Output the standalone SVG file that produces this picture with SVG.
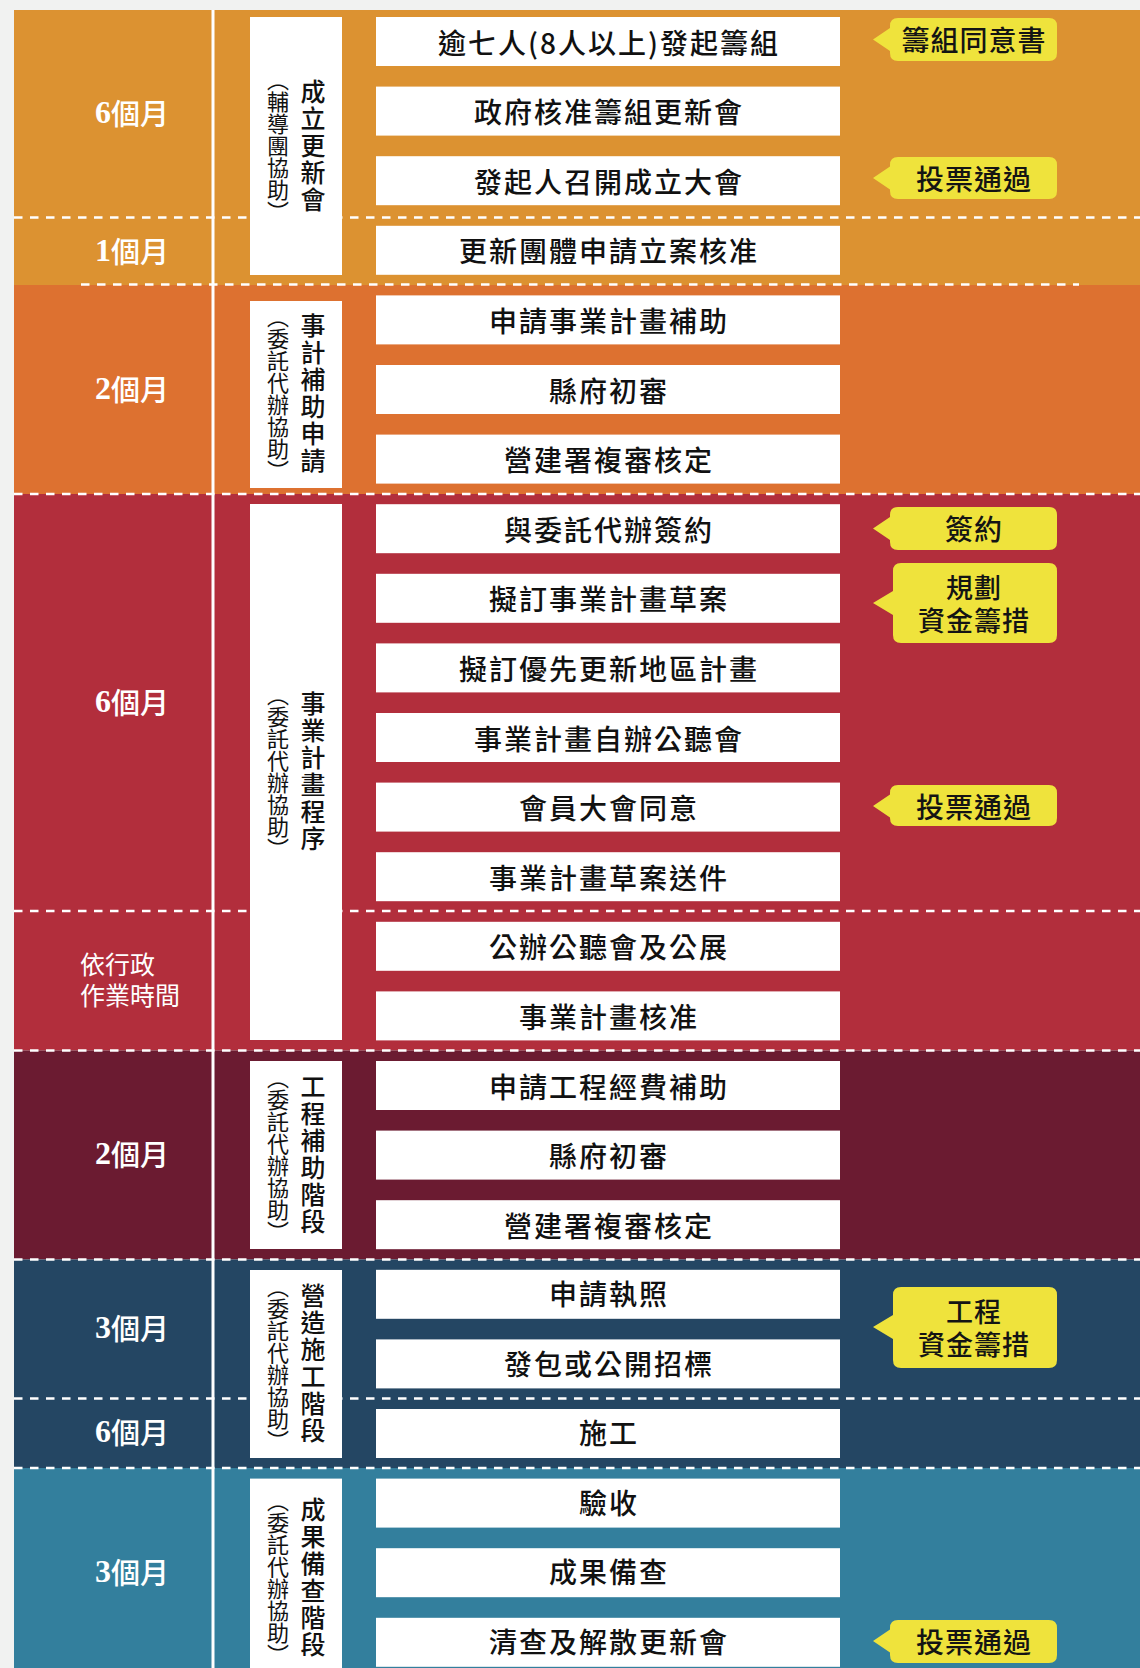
<svg xmlns="http://www.w3.org/2000/svg" width="1140" height="1668" viewBox="0 0 1140 1668">
<style>
.dash{stroke:#fff;stroke-width:2.5;stroke-dasharray:8.5 7.5;fill:none}
.lbox{fill:#fff}
.sbox{fill:#fff}
.stxt{font-family:"Noto Sans CJK TC","Noto Sans CJK SC",sans-serif;font-size:28px;font-weight:500;fill:#111;text-anchor:middle;dominant-baseline:central;letter-spacing:2px}
.vmain{font-family:"Noto Sans CJK TC",sans-serif;font-size:25px;font-weight:500;fill:#111;text-anchor:middle;writing-mode:vertical-rl;letter-spacing:2px}
.vsub{font-family:"Noto Sans CJK TC",sans-serif;font-size:22px;font-weight:400;fill:#111;text-anchor:middle;writing-mode:vertical-rl}
.mon{font-family:"Noto Sans CJK TC",sans-serif;font-size:29px;font-weight:500;fill:#fff;text-anchor:middle;dominant-baseline:central}
.dig{font-family:"Liberation Serif",serif;font-weight:bold;font-size:32px}
.adm{font-family:"Noto Sans CJK TC",sans-serif;font-size:25px;font-weight:400;fill:#fff;dominant-baseline:central}
.bub{fill:#EFE33C}
.btxt{font-family:"Noto Sans CJK TC",sans-serif;font-size:28px;font-weight:500;fill:#141414;text-anchor:middle;dominant-baseline:central;letter-spacing:1px}
.btxt2{font-family:"Noto Sans CJK TC",sans-serif;font-size:27px;font-weight:500;fill:#141414;text-anchor:middle;dominant-baseline:central;letter-spacing:1px}
</style>
<rect x="0" y="0" width="1140" height="1668" fill="#F1F2F1"/>
<g id="sections">
<rect x="14" y="10" width="1126" height="275" fill="#DC9231"/>
<rect x="14" y="285" width="1126" height="209" fill="#DD7130"/>
<rect x="14" y="494" width="1126" height="556.5" fill="#B22E3C"/>
<rect x="14" y="1050.5" width="1126" height="209" fill="#6B1B31"/>
<rect x="14" y="1259.5" width="1126" height="208.5" fill="#244663"/>
<rect x="14" y="1468" width="1126" height="200" fill="#337F9D"/>
<rect x="211.5" y="10" width="3" height="1658" fill="#fff"/>
</g>
<g id="connectors">
<line class="dash" x1="14" y1="217.5" x2="1140" y2="217.5"/>
<line class="dash" x1="81" y1="284.5" x2="1079" y2="284.5"/>
<line class="dash" x1="14" y1="494" x2="1140" y2="494"/>
<line class="dash" x1="14" y1="911" x2="1140" y2="911"/>
<line class="dash" x1="14" y1="1050.5" x2="1140" y2="1050.5"/>
<line class="dash" x1="14" y1="1259.5" x2="1140" y2="1259.5"/>
<line class="dash" x1="14" y1="1398.5" x2="1140" y2="1398.5"/>
<line class="dash" x1="14" y1="1468" x2="1140" y2="1468"/>
</g>
<g id="months">
<text class="mon" x="132" y="112"><tspan class="dig">6</tspan>個月</text>
<text class="mon" x="132" y="250"><tspan class="dig">1</tspan>個月</text>
<text class="mon" x="132" y="388"><tspan class="dig">2</tspan>個月</text>
<text class="mon" x="132" y="701"><tspan class="dig">6</tspan>個月</text>
<text class="adm" x="80" y="963">依行政</text>
<text class="adm" x="80" y="994">作業時間</text>
<text class="mon" x="132" y="1153"><tspan class="dig">2</tspan>個月</text>
<text class="mon" x="132" y="1327"><tspan class="dig">3</tspan>個月</text>
<text class="mon" x="132" y="1431"><tspan class="dig">6</tspan>個月</text>
<text class="mon" x="132" y="1571"><tspan class="dig">3</tspan>個月</text>
</g>
<g id="stage1"><rect class="lbox" x="250" y="17" width="92" height="258"/><text class="vmain" x="313" y="146">成立更新會</text><text class="vsub" x="278" y="146">（輔導團協助）</text></g>
<g id="stage2"><rect class="lbox" x="250" y="301" width="92" height="187"/><text class="vmain" x="313" y="394">事計補助申請</text><text class="vsub" x="278" y="394">（委託代辦協助）</text></g>
<g id="stage3"><rect class="lbox" x="250" y="504" width="92" height="536"/><text class="vmain" x="313" y="772">事業計畫程序</text><text class="vsub" x="278" y="772">（委託代辦協助）</text></g>
<g id="stage4"><rect class="lbox" x="250" y="1061" width="92" height="188"/><text class="vmain" x="313" y="1155">工程補助階段</text><text class="vsub" x="278" y="1155">（委託代辦協助）</text></g>
<g id="stage5"><rect class="lbox" x="250" y="1270" width="92" height="188"/><text class="vmain" x="313" y="1364">營造施工階段</text><text class="vsub" x="278" y="1364">（委託代辦協助）</text></g>
<g id="stage6"><rect class="lbox" x="250" y="1478.6" width="92" height="200"/><text class="vmain" x="313" y="1578">成果備查階段</text><text class="vsub" x="278" y="1578">（委託代辦協助）</text></g>
<g id="s0"><rect class="sbox" x="376" y="17" width="464" height="49"/><text class="stxt" x="609" y="41.5">逾七人(8人以上)發起籌組</text></g>
<g id="s1"><rect class="sbox" x="376" y="86.6" width="464" height="49"/><text class="stxt" x="609" y="111.1">政府核准籌組更新會</text></g>
<g id="s2"><rect class="sbox" x="376" y="156.2" width="464" height="49"/><text class="stxt" x="609" y="180.7">發起人召開成立大會</text></g>
<g id="s3"><rect class="sbox" x="376" y="225.8" width="464" height="49"/><text class="stxt" x="609" y="250.3">更新團體申請立案核准</text></g>
<g id="s4"><rect class="sbox" x="376" y="295.4" width="464" height="49"/><text class="stxt" x="609" y="319.9">申請事業計畫補助</text></g>
<g id="s5"><rect class="sbox" x="376" y="365" width="464" height="49"/><text class="stxt" x="609" y="389.5">縣府初審</text></g>
<g id="s6"><rect class="sbox" x="376" y="434.6" width="464" height="49"/><text class="stxt" x="609" y="459.1">營建署複審核定</text></g>
<g id="s7"><rect class="sbox" x="376" y="504.2" width="464" height="49"/><text class="stxt" x="609" y="528.7">與委託代辦簽約</text></g>
<g id="s8"><rect class="sbox" x="376" y="573.8" width="464" height="49"/><text class="stxt" x="609" y="598.3">擬訂事業計畫草案</text></g>
<g id="s9"><rect class="sbox" x="376" y="643.4" width="464" height="49"/><text class="stxt" x="609" y="667.9">擬訂優先更新地區計畫</text></g>
<g id="s10"><rect class="sbox" x="376" y="713" width="464" height="49"/><text class="stxt" x="609" y="737.5">事業計畫自辦公聽會</text></g>
<g id="s11"><rect class="sbox" x="376" y="782.6" width="464" height="49"/><text class="stxt" x="609" y="807.1">會員大會同意</text></g>
<g id="s12"><rect class="sbox" x="376" y="852.2" width="464" height="49"/><text class="stxt" x="609" y="876.7">事業計畫草案送件</text></g>
<g id="s13"><rect class="sbox" x="376" y="921.8" width="464" height="49"/><text class="stxt" x="609" y="946.3">公辦公聽會及公展</text></g>
<g id="s14"><rect class="sbox" x="376" y="991.4" width="464" height="49"/><text class="stxt" x="609" y="1015.9">事業計畫核准</text></g>
<g id="s15"><rect class="sbox" x="376" y="1061" width="464" height="49"/><text class="stxt" x="609" y="1085.5">申請工程經費補助</text></g>
<g id="s16"><rect class="sbox" x="376" y="1130.6" width="464" height="49"/><text class="stxt" x="609" y="1155.1">縣府初審</text></g>
<g id="s17"><rect class="sbox" x="376" y="1200.2" width="464" height="49"/><text class="stxt" x="609" y="1224.7">營建署複審核定</text></g>
<g id="s18"><rect class="sbox" x="376" y="1269.8" width="464" height="49"/><text class="stxt" x="609" y="1293">申請執照</text></g>
<g id="s19"><rect class="sbox" x="376" y="1339.4" width="464" height="49"/><text class="stxt" x="609" y="1362.6">發包或公開招標</text></g>
<g id="s20"><rect class="sbox" x="376" y="1409" width="464" height="49"/><text class="stxt" x="609" y="1432.2">施工</text></g>
<g id="s21"><rect class="sbox" x="376" y="1478.6" width="464" height="49"/><text class="stxt" x="609" y="1501.8">驗收</text></g>
<g id="s22"><rect class="sbox" x="376" y="1548.2" width="464" height="49"/><text class="stxt" x="609" y="1571.4">成果備查</text></g>
<g id="s23"><rect class="sbox" x="376" y="1617.8" width="464" height="49"/><text class="stxt" x="609" y="1641">清查及解散更新會</text></g>
<g id="c1"><path class="bub" d="M898 18H1049Q1057 18 1057 26V53Q1057 61 1049 61H898Q890 61 890 53V51L873 39.5L890 28V26Q890 18 898 18Z"/><text class="btxt" x="974" y="39">籌組同意書</text></g>
<g id="c2"><path class="bub" d="M898 157H1049Q1057 157 1057 165V191Q1057 199 1049 199H898Q890 199 890 191V189.5L873 178L890 166.5V165Q890 157 898 157Z"/><text class="btxt" x="974" y="177.5">投票通過</text></g>
<g id="c3"><path class="bub" d="M898 507H1049Q1057 507 1057 515V542Q1057 550 1049 550H898Q890 550 890 542V540L873 528.5L890 517V515Q890 507 898 507Z"/><text class="btxt" x="974" y="528">簽約</text></g>
<g id="c4"><path class="bub" d="M901 563H1049Q1057 563 1057 571V635Q1057 643 1049 643H901Q893 643 893 635V615L873 603L893 591V571Q893 563 901 563Z"/><text class="btxt2" x="974" y="586">規劃</text><text class="btxt2" x="974" y="619">資金籌措</text></g>
<g id="c5"><path class="bub" d="M898 785H1049Q1057 785 1057 793V818Q1057 826 1049 826H898Q890 826 890 818V817.5L873 806L890 794.5V793Q890 785 898 785Z"/><text class="btxt" x="974" y="805.5">投票通過</text></g>
<g id="c6"><path class="bub" d="M901 1287H1049Q1057 1287 1057 1295V1360Q1057 1368 1049 1368H901Q893 1368 893 1360V1339L873 1327L893 1315V1295Q893 1287 901 1287Z"/><text class="btxt2" x="974" y="1310">工程</text><text class="btxt2" x="974" y="1343">資金籌措</text></g>
<g id="c7"><path class="bub" d="M898 1620H1049Q1057 1620 1057 1628V1655Q1057 1663 1049 1663H898Q890 1663 890 1655V1652.5L873 1641L890 1629.5V1628Q890 1620 898 1620Z"/><text class="btxt" x="974" y="1641">投票通過</text></g>
</svg>
